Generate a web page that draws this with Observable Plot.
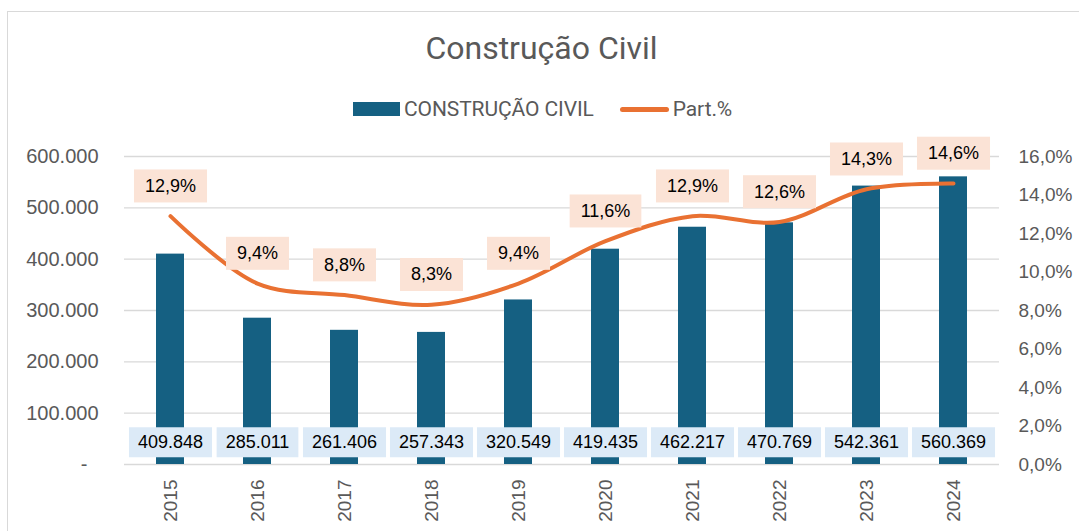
<!DOCTYPE html>
<html><head><meta charset="utf-8">
<script src="https://cdn.jsdelivr.net/npm/d3@7"></script>
<script src="https://cdn.jsdelivr.net/npm/@observablehq/plot@0.6"></script>
<style>
body{margin:0;background:#fff;}
#wrap{position:relative;width:1079px;height:531px;overflow:hidden;font-family:Roboto,"Liberation Sans",sans-serif;background:#fff;}
#frame{position:absolute;left:7px;top:11px;width:1100px;height:600px;border:1px solid #d9d9d9;box-sizing:border-box;}
#title{position:absolute;left:0;width:1079px;top:27px;text-align:center;font-size:32px;color:#595959;line-height:42px;padding-left:4px;box-sizing:border-box;}
#legend{position:absolute;left:353px;top:96px;height:26px;display:flex;align-items:center;color:#595959;font-size:21px;letter-spacing:-0.1px;}
.sw-bar{width:47px;height:14px;background:#156082;margin-right:4px;}
.sw-line{width:49px;height:5px;border-radius:3px;background:#e97132;margin-left:26px;margin-right:4px;}
#chart{position:absolute;left:0;top:130px;}
</style></head>
<body>
<div id="wrap">
  <div id="frame"></div>
  <div id="title">Construção Civil</div>
  <div id="legend"><div class="sw-bar"></div><span>CONSTRUÇÃO CIVIL</span><div class="sw-line"></div><span>Part.%</span></div>
  <div id="chart"></div>
</div>
<script>
const years = ["2015","2016","2017","2018","2019","2020","2021","2022","2023","2024"];
const values = [409848,285011,261406,257343,320549,419435,462217,470769,542361,560369];
const shares = [12.9,9.4,8.8,8.3,9.4,11.6,12.9,12.6,14.3,14.6];
const leftTicks = [0,100000,200000,300000,400000,500000,600000];
const rightTicks = [0,2,4,6,8,10,12,14,16];

const K = 600000/16;
const data = years.map((y,i)=>({year:y, value:values[i], share:shares[i]}));
const fmtInt = v => v===0 ? "-\u00a0\u00a0" : d3.format(",")(v).replace(/,/g,".");
const fmtPct = p => p.toFixed(1).replace(".",",")+"%";

const chart = Plot.plot({
  width:1079, height:401, marginTop:26, marginBottom:67, marginLeft:124, marginRight:80,
  style:{fontFamily:"'Liberation Sans', Arial, sans-serif", fontSize:"19px", color:"#595959", background:"transparent", overflow:"visible"},
  x:{domain:years, paddingInner:0.68, paddingOuter:0.34, label:null},
  y:{domain:[0,600000], label:null},
  marks:[
    Plot.gridY(leftTicks,{stroke:"#d9d9d9", strokeOpacity:1, strokeWidth:1.3}),
    Plot.axisY({ticks:leftTicks, tickFormat:fmtInt, tickSize:0, tickPadding:26, label:null, fill:"#595959", fontSize:20}),
    Plot.axisY({anchor:"right", ticks:rightTicks.map(p=>p*K), tickFormat:v=>fmtPct(v/K), tickSize:0, tickPadding:19, label:null, fill:"#595959"}),
    Plot.axisX({tickRotate:-90, tickSize:0, tickPadding:15, label:null, fill:"#595959"}),
    Plot.barY(data,{x:"year", y:"value", fill:"#156082"}),
    Plot.line(data,{x:"year", y:d=>d.share*K, stroke:"#e97132", strokeWidth:4, curve:"catmull-rom", strokeLinecap:"round"}),
    Plot.text(data,{x:"year", y:0, dy:-22, text:d=>fmtInt(d.value), fill:"#000", fontSize:18, ariaDescription:"vals"}),
    Plot.text(data,{x:"year", y:d=>d.share*K, dy:-30, text:d=>fmtPct(d.share), fill:"#000", fontSize:18, ariaDescription:"pcts"})
  ]
});
document.getElementById("chart").append(chart);

function boxes(g, fill, padX, h){
  if(!g) return;
  g.querySelectorAll("text").forEach(t=>{
    const b = t.getBBox();
    const r = document.createElementNS("http://www.w3.org/2000/svg","rect");
    const cy = b.y + b.height/2;
    r.setAttribute("x", b.x - padX);
    r.setAttribute("y", cy - h/2);
    r.setAttribute("width", b.width + 2*padX);
    r.setAttribute("height", h);
    r.setAttribute("fill", fill);
    r.setAttribute("stroke", "none");
    const tr = t.getAttribute("transform");
    if(tr) r.setAttribute("transform", tr);
    t.parentNode.insertBefore(r, t);
  });
}
const textGroups = chart.querySelectorAll('g[aria-label="text"]');
const gv = chart.querySelector('g[aria-description="vals"]') || textGroups[0];
const gp = chart.querySelector('g[aria-description="pcts"]') || textGroups[1];
boxes(gv, "#dceaf7", 9, 30);
boxes(gp, "#fbe3d6", 11, 33);
</script>
</body></html>
